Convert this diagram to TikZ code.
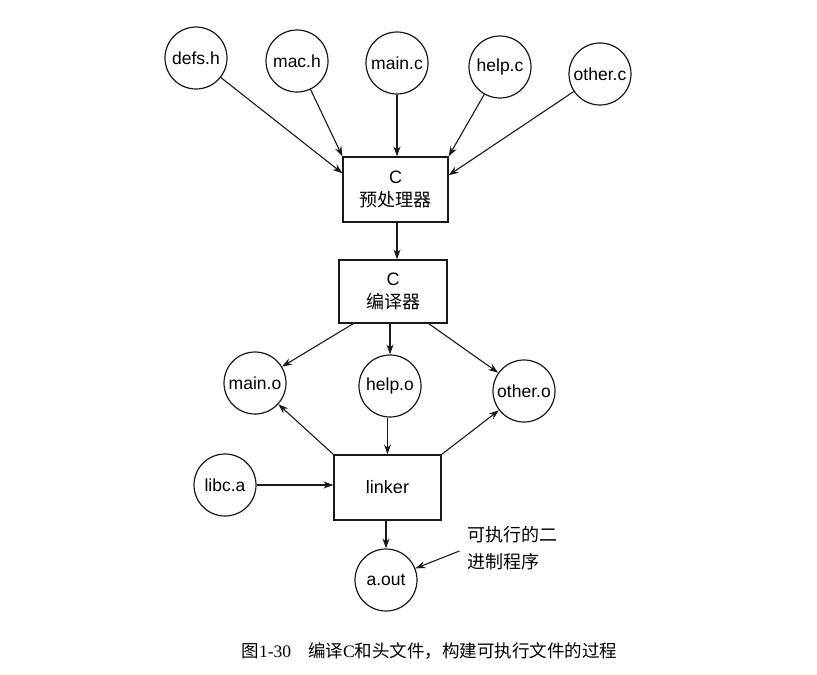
\documentclass[tikz,border=0pt]{standalone}
\usepackage{fontspec}
\setmainfont{Liberation Sans}
\newfontfamily\cjk{Noto Sans CJK SC}
\newfontfamily\capserif{Liberation Serif}
\usetikzlibrary{arrows.meta}
\begin{document}
\begin{tikzpicture}[x=1pt,y=-1pt,
  line width=1.2pt, draw=black!90,
  file/.style={circle, draw, minimum size=62pt, inner sep=0pt,
    font=\fontsize{17.5}{19}\selectfont},
  tool/.style={rectangle, draw, inner sep=0pt, align=center,
    font=\fontsize{18}{23}\selectfont},
  arr/.style={-{Stealth[length=10pt,width=7pt]}, line width=1.1pt}]
\useasboundingbox (0,0) rectangle (817,675);

% source and header files
\node[file] (defs)  at (196,58) {defs.h};
\node[file] (mac)   at (297,61) {mac.h};
\node[file] (mainc) at (397,63) {main.c};
\node[file] (helpc) at (500,67) {help.c};
\node[file] (otherc) at (600,74) {other.c};

% preprocessor and compiler
\node[tool, minimum width=105pt, minimum height=65pt] (prep) at (395.5,189.5)
  {C\\{\cjk 预处理器}};
\node[tool, minimum width=108pt, minimum height=63pt] (comp) at (393,291.5)
  {C\\{\cjk 编译器}};

% object files
\node[file] (maino)  at (255,383) {main.o};
\node[file] (helpo)  at (390,386) {help.o};
\node[file] (othero) at (524,391) {other.o};

% linking stage
\node[tool, minimum width=107pt, minimum height=65pt] (link) at (387.5,487.5) {linker};
\node[file] (libc) at (225,485) {libc.a};
\node[file] (aout) at (386,580) {a.out};
\node[align=left, inner sep=0pt, font=\cjk\fontsize{18}{27}\selectfont] (note)
  at (512,548) {可执行的二\\进制程序};

% edges
\draw[arr] (defs) -- (prep.163);
\draw[arr] (mac) -- (prep.north west);
\draw[arr] (mainc) -- (mainc |- prep.north);
\draw[arr] (helpc) -- (prep.north east);
\draw[arr] (otherc) -- (prep.15);
\draw[arr] (prep.south -| mainc) -- (mainc |- comp.north);
\draw[arr] (comp.219) -- (maino);
\draw[arr] (comp.south -| helpo) -- (helpo);
\draw[arr] (comp.318) -- (othero);
\draw[arr] (link.north west) -- (maino);
\draw[arr] (helpo.south -| link) -- (link.north);
\draw[arr] (link.north east) -- (othero);
\draw[arr] (libc) -- (libc -| link.west);
\draw[arr] (link.south -| aout) -- (aout);
\draw[arr] ([xshift=-7pt,yshift=-3pt]note.west) -- (aout);

% caption
\node[anchor=west, inner sep=0pt, font=\fontsize{17.5}{20}\selectfont] (cap) at (241,651)
  {\cjk 图\capserif 1-30\hspace{17pt}\cjk 编译\capserif C\cjk 和头文件，构建可执行文件的过程};
\end{tikzpicture}
\end{document}
